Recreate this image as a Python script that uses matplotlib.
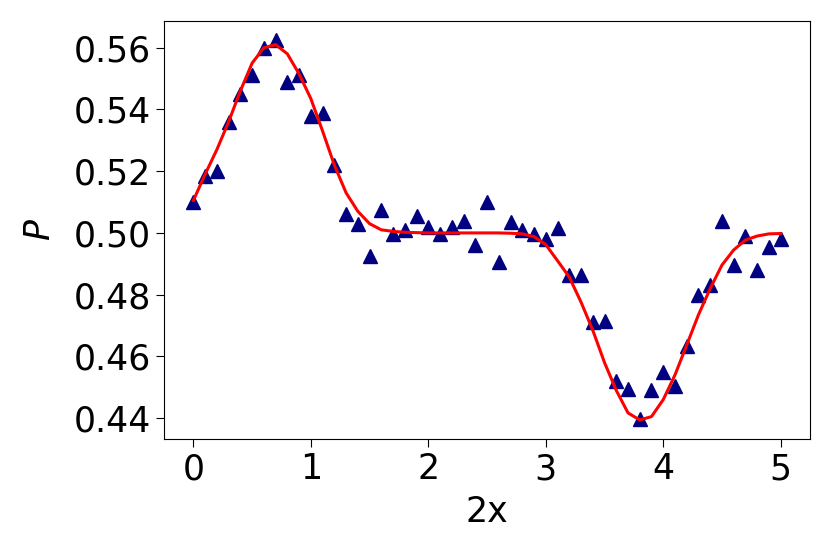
import matplotlib
matplotlib.use("Agg")
import matplotlib.pyplot as plt

# measured points (x step 0.1)
x_vals = [round(0.1 * i, 1) for i in range(51)]
p_data = [0.510, 0.5185, 0.520, 0.536, 0.545, 0.551, 0.560, 0.5625, 0.549, 0.551,
          0.538, 0.539, 0.522, 0.506, 0.503, 0.4925, 0.5075, 0.4995, 0.501, 0.5055,
          0.502, 0.4995, 0.502, 0.504, 0.496, 0.510, 0.4905, 0.5035, 0.501, 0.4995,
          0.498, 0.5015, 0.4865, 0.4865, 0.471, 0.4715, 0.452, 0.4495, 0.4398, 0.449,
          0.455, 0.4505, 0.4635, 0.480, 0.483, 0.504, 0.4895, 0.499, 0.488, 0.4955,
          0.498]

# fitted curve
p_fit = [0.5105, 0.519, 0.527, 0.536, 0.546, 0.555, 0.5600, 0.561, 0.558, 0.5515,
         0.5435, 0.533, 0.522, 0.513, 0.507, 0.503, 0.501, 0.5005, 0.5002, 0.5001,
         0.5, 0.5, 0.5, 0.5, 0.5, 0.5, 0.5, 0.4999, 0.4997, 0.4988,
         0.4962, 0.491, 0.4857, 0.4776, 0.4685, 0.458, 0.449, 0.4417, 0.4394, 0.4405,
         0.446, 0.454, 0.4637, 0.4735, 0.482, 0.4896, 0.4945, 0.4977, 0.499, 0.4997,
         0.4998]

fig = plt.figure(figsize=(8.3, 5.54), dpi=100)
ax = fig.add_axes([0.1976, 0.2076, 0.7784, 0.7545])

ax.plot(x_vals, p_data, linestyle="none", marker="^", color="navy", markersize=10)
ax.plot(x_vals, p_fit, color="red", linewidth=2.2)

fs = 25
ax.set_xlabel("2x", fontsize=fs, labelpad=6)
ax.set_ylabel("$P$", fontsize=fs, labelpad=12)
ax.tick_params(labelsize=fs, length=6)
ax.set_yticks([0.44, 0.46, 0.48, 0.50, 0.52, 0.54, 0.56])
ax.set_yticklabels(["0.44", "0.46", "0.48", "0.50", "0.52", "0.54", "0.56"])

fig.savefig("out.png", dpi=100)
